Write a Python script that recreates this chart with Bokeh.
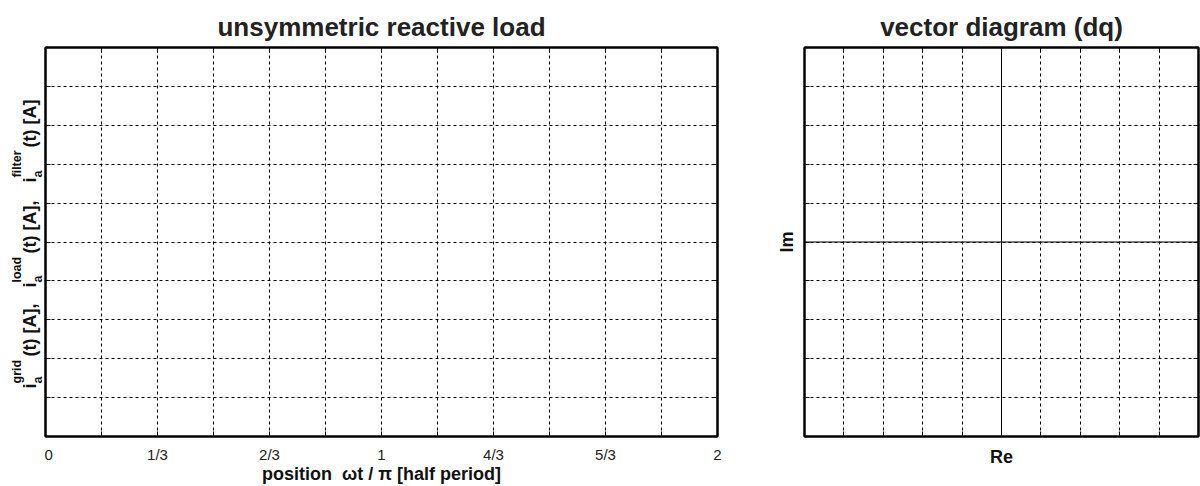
import math
from bokeh.plotting import figure
from bokeh.layouts import row
from bokeh.models import (FixedTicker, LinearAxis, Range1d, Title)
from bokeh.core.properties import value
from bokeh.embed import file_html
from bokeh.resources import INLINE

# ---- data (axes only; no series are drawn in the reference) ----
x_ticks = [0, 1/6, 1/3, 1/2, 2/3, 5/6, 1, 7/6, 4/3, 3/2, 5/3, 11/6, 2]
x_tick_labels = ["0", "", "1/3", "", "2/3", "", "1", "", "4/3", "", "5/3", "", "2"]
y_ticks = [-1.0, -0.8, -0.6, -0.4, -0.2, 0.0, 0.2, 0.4, 0.6, 0.8, 1.0]
vec_ticks = [-1.0, -0.8, -0.6, -0.4, -0.2, 0.0, 0.2, 0.4, 0.6, 0.8, 1.0]
re_axis_x = [-1.0, 1.0]
re_axis_y = [0.0, 0.0]
im_axis_x = [0.0, 0.0]
im_axis_y = [-1.0, 1.0]

# y-axis label pieces (i^sup_a (t) [A], ...)
ylab_sup = ["grid", "load", "filter"]
ylab_main = ["(t) [A],", "(t) [A],", "(t) [A]"]

FONT = "Liberation Sans"
TXT = "#111111"


def style_axis(ax, ticks, labels=None):
    ax.ticker = FixedTicker(ticks=ticks)
    ax.major_tick_in = 5
    ax.major_tick_out = 0
    ax.minor_tick_line_color = None
    ax.axis_line_color = "black"
    ax.axis_line_width = 2
    ax.major_tick_line_color = "black"
    ax.major_tick_line_width = 1
    ax.major_label_text_font = FONT
    if labels is not None:
        ax.major_label_text_color = "#222222"
        ax.major_label_text_font_size = "15px"
        ax.major_label_overrides = {t: l for t, l in zip(ticks, labels)}
    else:
        ax.major_label_text_color = None
        ax.major_label_text_font_size = "1px"
        ax.major_label_standoff = 0


def style_grid(p):
    for g in (p.xgrid, p.ygrid):
        g.grid_line_color = "black"
        g.grid_line_dash = "3 3"
        g.grid_line_width = 1
        g.grid_line_alpha = 1.0


# ---------------- y-label strip (screen-like coordinates) ----------------
WY = 44
py = figure(width=WY, height=486, output_backend="svg", toolbar_location=None,
            x_range=Range1d(0, WY), y_range=Range1d(436, 47),
            min_border_left=0, min_border_right=0, min_border_top=47,
            min_border_bottom=50, title=None)
py.axis.visible = False
py.grid.visible = False
py.outline_line_color = None

i_start = [388, 287, 182]
sup_start = [383, 282, 177]
main_start = [356, 253, 147]
common = dict(angle=math.pi / 2, text_font=value(FONT), text_font_style="bold",
              text_color=TXT, text_align="left", text_baseline="alphabetic")
py.text(x=[29, 29, 29], y=i_start, text=["i", "i", "i"], text_font_size="18px", **common)
py.text(x=[29, 29, 29], y=main_start, text=ylab_main, text_font_size="18px", **common)
py.text(x=[16.5, 16.5, 16.5], y=sup_start, text=ylab_sup, text_font_size="12.5px", **common)
py.text(x=[37, 37, 37], y=sup_start, text=["a", "a", "a"], text_font_size="12.5px", **common)

# ---------------- left figure ----------------
p1 = figure(width=760 - WY, height=486, output_backend="svg", toolbar_location=None,
            x_range=Range1d(0, 2), y_range=Range1d(-1, 1),
            min_border_left=45 - WY, min_border_right=43, min_border_top=47,
            min_border_bottom=50, title=None)
p1.outline_line_color = "black"
p1.outline_line_width = 2

style_axis(p1.xaxis[0], x_ticks, x_tick_labels)
p1.xaxis[0].major_label_standoff = 9
p1.xaxis[0].axis_label = "position\u00a0\u00a0\u03c9t / \u03c0 [half period]"
p1.xaxis[0].axis_label_text_font = FONT
p1.xaxis[0].axis_label_text_font_style = "bold"
p1.xaxis[0].axis_label_text_font_size = "18px"
p1.xaxis[0].axis_label_text_color = TXT
p1.xaxis[0].axis_label_standoff = -2
style_axis(p1.yaxis[0], y_ticks)

top1 = LinearAxis()
style_axis(top1, x_ticks)
p1.add_layout(top1, "above")
right1 = LinearAxis()
style_axis(right1, y_ticks)
p1.add_layout(right1, "right")
style_grid(p1)

t1 = Title(text="unsymmetric reactive load", align="center", text_font=FONT,
           text_font_size="26px", text_font_style="bold", text_color="#222222",
           standoff=12)
p1.add_layout(t1, "above")

# ---------------- right figure ----------------
p2 = figure(width=440, height=486, output_backend="svg", toolbar_location=None,
            x_range=Range1d(-1, 1), y_range=Range1d(-1, 1),
            min_border_left=44, min_border_right=2, min_border_top=47,
            min_border_bottom=50, title=None)
p2.outline_line_color = "black"
p2.outline_line_width = 2
style_axis(p2.xaxis[0], vec_ticks)
style_axis(p2.yaxis[0], vec_ticks)
for ax, lab, so in ((p2.xaxis[0], "Re", 10), (p2.yaxis[0], "Im", 8)):
    ax.axis_label = lab
    ax.axis_label_text_font = FONT
    ax.axis_label_text_font_style = "bold"
    ax.axis_label_text_font_size = "18px"
    ax.axis_label_text_color = TXT
    ax.axis_label_standoff = so
top2 = LinearAxis()
style_axis(top2, vec_ticks)
p2.add_layout(top2, "above")
right2 = LinearAxis()
style_axis(right2, vec_ticks)
p2.add_layout(right2, "right")
style_grid(p2)
p2.line(re_axis_x, re_axis_y, line_color="black", line_width=1)
p2.line(im_axis_x, im_axis_y, line_color="black", line_width=1)

t2 = Title(text="vector diagram (dq)", align="center", text_font=FONT,
           text_font_size="26px", text_font_style="bold", text_color="#222222",
           standoff=12)
p2.add_layout(t2, "above")

layout = row(py, p1, p2)
open("out.html", "w").write(file_html(layout, INLINE))
